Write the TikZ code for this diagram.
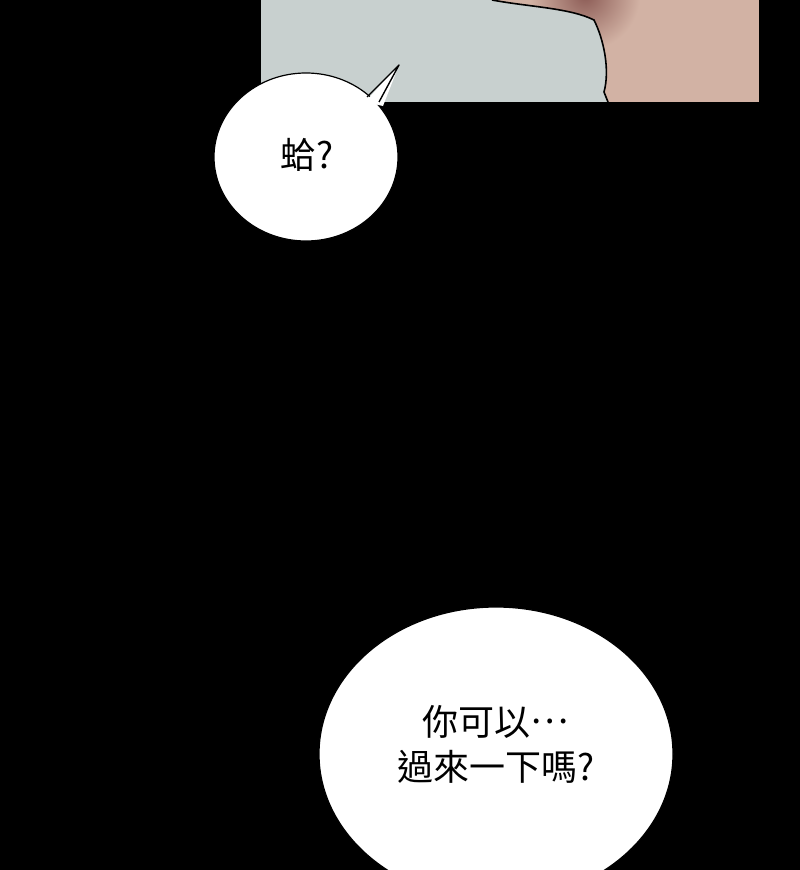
\documentclass[tikz,border=0pt]{standalone}
\usepackage{fontspec}
\newfontfamily\cjk{Noto Sans CJK TC}
\usetikzlibrary{shapes.geometric, positioning}
\definecolor{wallgray}{HTML}{C8D0CF}
\definecolor{skin}{HTML}{D2B2A4}
\definecolor{skinshade}{HTML}{8C5C56}
\tikzset{
  bubble/.style={draw=black, line width=1.2pt, fill=white, shape=ellipse, inner sep=0pt},
  speech/.style={font=\cjk\fontsize{36}{45}\selectfont, align=center, text=black},
  outline/.style={line width=1.6pt, black, line join=round}
}
\newcommand{\middots}{\raisebox{0.33em}{…}}
\begin{document}
\begin{tikzpicture}[x=1pt, y=-1pt]
    \useasboundingbox (0,0) rectangle (800,870);
    \fill[black] (0,0) rectangle (800,870);

    % panel at the top
    \fill[wallgray] (261,0) rectangle (759,102);
    \begin{scope}
      \clip (492,0) .. controls (530,7) and (570,8) .. (594,20)
        .. controls (604,40) and (610,70) .. (604,92)
        -- (608,102) -- (759,102) -- (759,0) -- cycle;
      \fill[skin] (480,0) rectangle (759,102);
      \shade[inner color=skinshade, outer color=skin, shading=radial] (585,-5) circle (55);
    \end{scope}
    \draw[outline] (492,0) .. controls (530,7) and (570,8) .. (594,20)
      .. controls (604,40) and (610,70) .. (604,92) -- (608,102);

    % bubbles
    \node[bubble, minimum width=184pt, minimum height=168pt] (ha) at (306,157) {};
    \coordinate (tip) at (399,65);
    \fill[white] (365,102) -- (tip) -- (383,106) -- cycle;
    \draw[outline, line width=1.4pt] (367,97) -- (tip) -- (379,102);
    \node[speech] (ha_text) at (307,155) {蛤?};

    \node[bubble, minimum width=354pt, minimum height=294pt] (come) at (496,754) {};
    \node[speech] (come_text) at (496,744) {你可以\middots\\過來一下嗎?};
  \end{tikzpicture}
\end{document}
